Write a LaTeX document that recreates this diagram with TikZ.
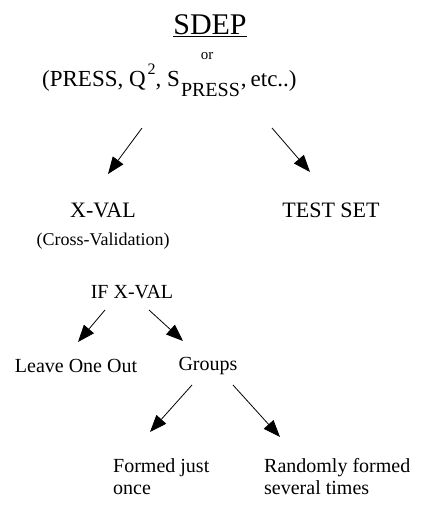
\documentclass[tikz,border=0pt]{standalone}
\usepackage{fontspec}
\setmainfont{Liberation Serif}
\usetikzlibrary{arrows.meta}
\tikzset{
  txt/.style={inner sep=0pt, font=\fontsize{20}{22}\selectfont},
  big/.style={inner sep=0pt, font=\fontsize{22}{24}\selectfont},
  arr/.style={line width=0.8pt, -{Triangle[length=17pt,width=13pt]}},
}
\begin{document}
\begin{tikzpicture}[x=1pt,y=-1pt]
\useasboundingbox (0,0) rectangle (425,506);
\node[inner sep=0pt, font=\fontsize{30}{32}\selectfont] (sdep) at (210,26) {\underline{SDEP}};
\node[inner sep=0pt, font=\fontsize{15}{17}\selectfont] (or) at (207,56) {or};
\node[inner sep=0pt, font=\fontsize{23}{25}\selectfont, anchor=base west] (press) at (42,86)
  {(PRESS, Q\hspace{2pt}\raisebox{12pt}{\fontsize{16}{18}\selectfont 2}, S\hspace{1pt}\raisebox{-10pt}{\fontsize{20}{22}\selectfont PRESS}\hspace{1pt},\hspace{4pt}etc..)};
\node[big] (xval) at (103,210) {X-VAL};
\node[inner sep=0pt, font=\fontsize{18}{20}\selectfont] (cv) at (103,241) {(Cross-Validation)};
\node[big] (test) at (331,210) {TEST SET};
\node[txt] (if) at (132,292) {IF X-VAL};
\node[txt] (loo) at (76,366) {Leave One Out};
\node[txt] (groups) at (208,366) {Groups};
\node[txt, anchor=north west, align=left] (once) at (113,458) {Formed just\\once};
\node[txt, anchor=north west, align=left] (rand) at (264,458) {Randomly formed\\several times};
\coordinate (a1s) at (142,128); \coordinate (a1e) at (108,174);
\coordinate (a2s) at (272,128); \coordinate (a2e) at (310,172);
\coordinate (a3s) at (105,310); \coordinate (a3e) at (78,342);
\coordinate (a4s) at (149,310); \coordinate (a4e) at (183,341);
\coordinate (a5s) at (192,385); \coordinate (a5e) at (150,432);
\coordinate (a6s) at (233,385); \coordinate (a6e) at (280,437);
\draw[arr] (a1s) -- (a1e);
\draw[arr] (a2s) -- (a2e);
\draw[arr] (a3s) -- (a3e);
\draw[arr] (a4s) -- (a4e);
\draw[arr] (a5s) -- (a5e);
\draw[arr] (a6s) -- (a6e);
\end{tikzpicture}
\end{document}
